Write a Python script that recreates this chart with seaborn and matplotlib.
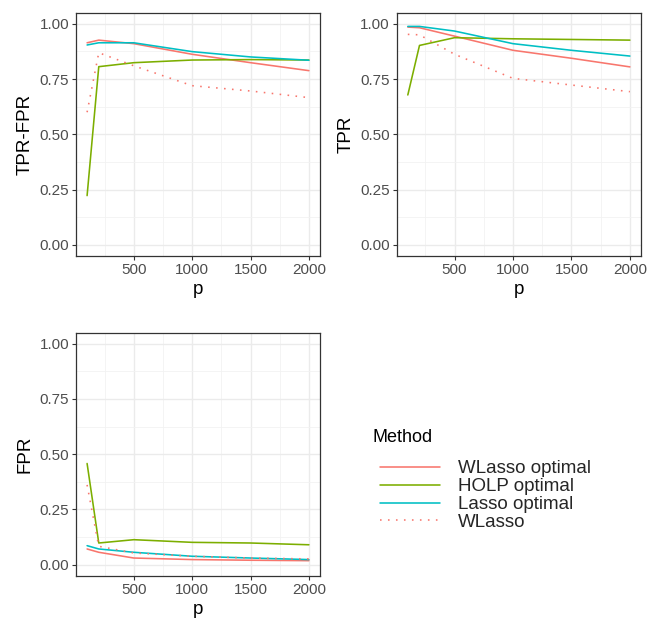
import numpy as np
import pandas as pd
import seaborn as sns
import matplotlib
matplotlib.use("Agg")
import matplotlib.pyplot as plt
from matplotlib.ticker import FixedLocator, FuncFormatter

# ---- data ----
p_values = [100, 200, 500, 1000, 1500, 2000]
methods = ["WLasso optimal", "HOLP optimal", "Lasso optimal", "WLasso"]

tpr_fpr_wlasso_opt = [0.914, 0.926, 0.910, 0.862, 0.824, 0.788]
tpr_fpr_holp_opt = [0.223, 0.806, 0.824, 0.836, 0.838, 0.836]
tpr_fpr_lasso_opt = [0.904, 0.914, 0.914, 0.874, 0.850, 0.835]
tpr_fpr_wlasso = [0.600, 0.869, 0.810, 0.720, 0.696, 0.666]

tpr_wlasso_opt = [0.985, 0.982, 0.944, 0.880, 0.844, 0.805]
tpr_holp_opt = [0.678, 0.902, 0.937, 0.932, 0.929, 0.926]
tpr_lasso_opt = [0.988, 0.988, 0.967, 0.910, 0.880, 0.854]
tpr_wlasso = [0.952, 0.950, 0.862, 0.753, 0.723, 0.693]

fpr_wlasso_opt = [0.071, 0.056, 0.030, 0.023, 0.020, 0.018]
fpr_holp_opt = [0.458, 0.098, 0.113, 0.101, 0.098, 0.090]
fpr_lasso_opt = [0.086, 0.071, 0.056, 0.038, 0.030, 0.023]
fpr_wlasso = [0.361, 0.083, 0.053, 0.038, 0.030, 0.026]

panels = {
    "TPR-FPR": [tpr_fpr_wlasso_opt, tpr_fpr_holp_opt, tpr_fpr_lasso_opt, tpr_fpr_wlasso],
    "TPR": [tpr_wlasso_opt, tpr_holp_opt, tpr_lasso_opt, tpr_wlasso],
    "FPR": [fpr_wlasso_opt, fpr_holp_opt, fpr_lasso_opt, fpr_wlasso],
}

rows = []
for metric, series in panels.items():
    for m, vals in zip(methods, series):
        for p, v in zip(p_values, vals):
            rows.append({"metric": metric, "Method": m, "p": p, "value": v})
df = pd.DataFrame(rows)

palette = {"WLasso optimal": "#F8766D", "HOLP optimal": "#7CAE00",
           "Lasso optimal": "#00BFC4", "WLasso": "#F8766D"}
dashes = {"WLasso optimal": "", "HOLP optimal": "", "Lasso optimal": "", "WLasso": (1, 4)}

sns.set_theme(style="white")
plt.rcParams["font.family"] = ["Liberation Sans", "DejaVu Sans"]

W, H = 648, 626
fig = plt.figure(figsize=(W / 100, H / 100), dpi=100)

def frac(l, t, r, b):
    return [l / W, 1 - b / H, (r - l) / W, (b - t) / H]

positions = {
    "TPR-FPR": frac(76, 12.7, 320, 256),
    "TPR": frac(396.7, 12.7, 641, 256),
    "FPR": frac(76, 332.7, 320, 575.7),
}

axes = {}
for metric, pos in positions.items():
    ax = fig.add_axes(pos)
    sub = df[df["metric"] == metric]
    sns.lineplot(data=sub, x="p", y="value", hue="Method", style="Method",
                 hue_order=methods, style_order=methods,
                 palette=palette, dashes=dashes, linewidth=1.15, ax=ax,
                 legend=(metric == "TPR-FPR"))
    ax.set_xlim(5, 2095)
    ax.set_ylim(-0.05, 1.05)
    ax.xaxis.set_major_locator(FixedLocator([500, 1000, 1500, 2000]))
    ax.xaxis.set_minor_locator(FixedLocator([250, 750, 1250, 1750]))
    ax.yaxis.set_major_locator(FixedLocator([0, 0.25, 0.5, 0.75, 1.0]))
    ax.yaxis.set_minor_locator(FixedLocator([0.125, 0.375, 0.625, 0.875]))
    ax.yaxis.set_major_formatter(FuncFormatter(lambda v, _: f"{v:.2f}"))
    ax.grid(True, which="major", color="#EBEBEB", linewidth=1.0)
    ax.grid(True, which="minor", color="#F2F2F2", linewidth=0.6)
    ax.set_axisbelow(True)
    for s in ax.spines.values():
        s.set_color("#333333")
        s.set_linewidth(0.9)
    ax.tick_params(which="major", direction="out", length=3, width=0.8,
                   color="#333333", labelsize=11, labelcolor="#4D4D4D", pad=2,
                   bottom=True, left=True)
    ax.tick_params(which="minor", length=0)
    ax.set_xlabel("p", fontsize=13.5, color="black", labelpad=3)
    ax.set_ylabel(metric, fontsize=13.5, color="black", labelpad=4)
    axes[metric] = ax

handles, labels = axes["TPR-FPR"].get_legend_handles_labels()
axes["TPR-FPR"].get_legend().remove()
fig.text(373 / W, 1 - 437 / H, "Method", fontsize=13, color="black",
         ha="left", va="center")
leg = fig.legend(handles, labels, loc="upper left",
                 bbox_to_anchor=(380 / W, 1 - 460 / H), frameon=False,
                 borderpad=0, borderaxespad=0,
                 fontsize=13.5, handlelength=3.2,
                 handletextpad=0.96, labelspacing=0.045)
for line in leg.get_lines():
    line.set_linewidth(1.15)

fig.savefig("out.png", dpi=100)
